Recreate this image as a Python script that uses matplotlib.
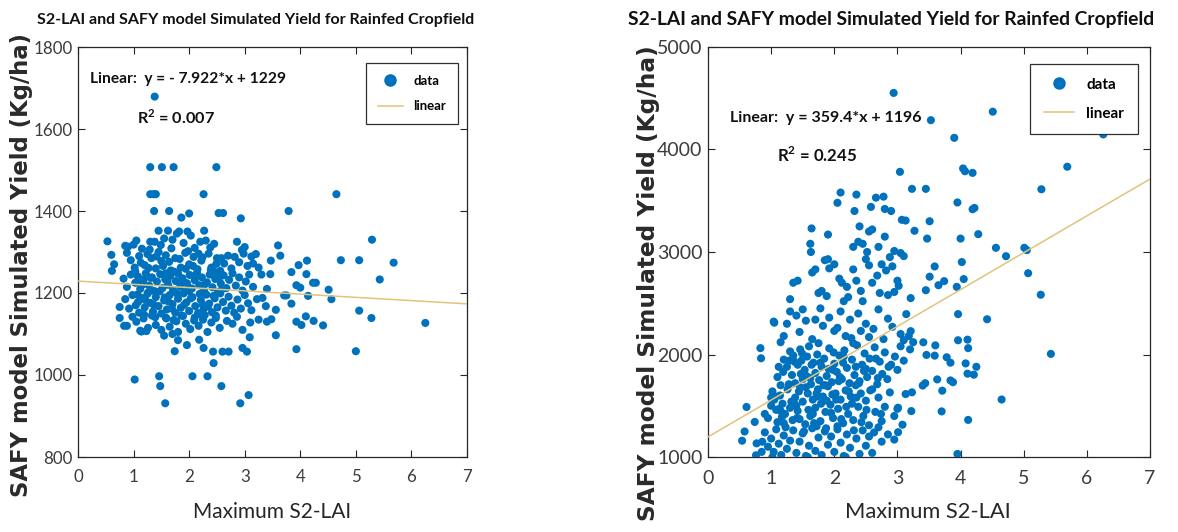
import numpy as np
import matplotlib
matplotlib.use("Agg")
import matplotlib.pyplot as plt
from matplotlib.lines import Line2D
from matplotlib.font_manager import FontProperties

# ---------------- data ----------------
x_ticks = [0, 1, 2, 3, 4, 5, 6, 7]
y_ticks_left = [800, 1000, 1200, 1400, 1600, 1800]
y_ticks_right = [1000, 2000, 3000, 4000, 5000]

slope_left, intercept_left, r2_left = -7.922, 1229, 0.007
slope_right, intercept_right, r2_right = 359.4, 1196, 0.245

# left panel – outlying points
left_out_lai = [1.38, 1.30, 1.51, 1.72, 2.49,
                1.30, 1.36, 1.40, 2.26, 4.65,
                1.37, 1.64, 1.86, 2.00, 2.53, 2.61, 2.93, 3.79,
                5.29, 0.53, 5.68, 4.73, 5.06, 5.43, 4.51, 4.56, 5.06, 5.28, 6.25, 5.00, 4.41, 4.24,
                1.02, 1.46, 1.48, 1.57, 2.06, 2.33, 2.58, 2.92, 3.07, 2.44, 2.43,
                0.75, 0.75, 0.83, 0.65, 0.60, 0.61,
                3.93, 3.93, 4.02, 4.10,
                3.56, 3.56, 3.48, 3.60, 3.64, 3.47, 3.46, 3.32,
                3.97, 4.12, 4.11, 4.23, 4.28, 4.14, 3.84, 3.71, 3.75, 3.93, 4.00, 3.84,
                3.09, 2.96, 3.04, 2.71, 2.60, 2.26, 2.18, 1.96, 1.80, 1.74, 1.55, 1.14, 1.23]
left_out_yield = [1679, 1507, 1507, 1507, 1507,
                  1441, 1441, 1441, 1441, 1441,
                  1400, 1400, 1384, 1394, 1395, 1395, 1382, 1400,
                  1330, 1326, 1274, 1280, 1280, 1233, 1208, 1185, 1157, 1139, 1127, 1058, 1121, 1132,
                  989, 997, 973, 931, 997, 997, 973, 931, 951, 1029, 1057,
                  1166, 1139, 1120, 1270, 1293, 1254,
                  1130, 1063, 1122, 1143,
                  1097, 1159, 1136, 1316, 1291, 1279, 1246, 1188,
                  1268, 1279, 1246, 1225, 1225, 1193, 1174, 1194, 1194, 1219, 1213, 1251,
                  1092, 1066, 1057, 1057, 1057, 1066, 1086, 1073, 1085, 1058, 1096, 1106, 1107]

# left panel – dense cloud
left_core_lai = [0.85, 0.90, 1.00, 1.05, 1.30, 1.38, 1.45, 1.62, 1.70, 1.78, 1.82, 1.97, 2.03, 2.20, 2.27, 2.30,
                 2.45, 2.86, 3.00, 2.95, 1.55, 1.90, 2.10, 1.15,
                 0.95, 1.10, 1.20, 1.25, 1.32, 1.40, 1.50, 1.58, 1.67, 1.75, 1.85, 1.93, 2.00, 2.08, 2.15, 2.22,
                 2.35, 2.40, 2.50, 2.56, 2.63, 2.70, 2.76, 2.82, 2.90, 2.98, 3.05, 3.12, 3.20, 3.25, 3.15, 1.02,
                 0.88, 1.45, 2.45,
                 0.82, 0.88, 0.95, 1.03, 1.08, 1.12, 1.18, 1.22, 1.28, 1.33, 1.37, 1.42, 1.48, 1.52, 1.57, 1.62,
                 1.66, 1.71, 1.76, 1.80, 1.84, 1.88, 1.92, 1.96, 2.01, 2.05, 2.10, 2.14, 2.18, 2.23, 2.27, 2.32,
                 2.37, 2.42, 2.47, 2.52, 2.57, 2.62, 2.67, 2.72, 2.78, 2.84, 2.90, 2.96, 3.02, 3.08, 3.15, 3.30,
                 3.40, 1.26, 1.58, 2.00,
                 0.85, 0.92, 0.98, 1.04, 1.10, 1.15, 1.20, 1.25, 1.30, 1.35, 1.40, 1.45, 1.50, 1.55, 1.60, 1.65,
                 1.70, 1.75, 1.80, 1.85, 1.90, 1.95, 2.00, 2.06, 2.11, 2.16, 2.21, 2.26, 2.31, 2.36, 2.41, 2.46,
                 2.51, 2.56, 2.61, 2.66, 2.71, 2.76, 2.81, 2.87, 2.93, 3.00, 3.06, 3.12, 3.22, 3.38, 1.08, 1.62,
                 2.24,
                 0.88, 0.98, 1.05, 1.12, 1.18, 1.26, 1.33, 1.40, 1.50, 1.58, 1.65, 1.72, 1.80, 1.86, 1.94, 2.02,
                 2.10, 2.17, 2.25, 2.33, 2.40, 2.48, 2.55, 2.68, 2.78, 2.86, 2.96, 3.10, 3.25, 3.40, 1.70, 2.20]
left_core_yield = [1315, 1313, 1318, 1328, 1325, 1325, 1352, 1352, 1330, 1345, 1350, 1350, 1340, 1325, 1352, 1328,
                   1320, 1325, 1312, 1305, 1333, 1322, 1310, 1308,
                   1280, 1290, 1268, 1295, 1285, 1260, 1278, 1292, 1255, 1285, 1262, 1298, 1270, 1288, 1258, 1279,
                   1296, 1262, 1285, 1254, 1272, 1291, 1260, 1288, 1275, 1296, 1266, 1289, 1295, 1262, 1272, 1262,
                   1298, 1300, 1252,
                   1235, 1215, 1245, 1225, 1240, 1210, 1232, 1248, 1218, 1238, 1205, 1228, 1246, 1212, 1233, 1220,
                   1242, 1208, 1229, 1247, 1216, 1236, 1203, 1224, 1244, 1211, 1231, 1249, 1219, 1238, 1206, 1226,
                   1245, 1214, 1234, 1202, 1223, 1243, 1212, 1232, 1248, 1218, 1238, 1206, 1228, 1245, 1215, 1245,
                   1210, 1201, 1248, 1205,
                   1185, 1162, 1195, 1170, 1152, 1188, 1165, 1198, 1176, 1155, 1190, 1168, 1150, 1182, 1160, 1195,
                   1173, 1152, 1186, 1164, 1199, 1177, 1156, 1190, 1168, 1151, 1183, 1161, 1196, 1174, 1153, 1187,
                   1165, 1199, 1178, 1157, 1191, 1169, 1152, 1184, 1162, 1195, 1175, 1158, 1185, 1168, 1178, 1180,
                   1172,
                   1120, 1142, 1130, 1108, 1138, 1115, 1145, 1122, 1110, 1140, 1118, 1134, 1105, 1145, 1125, 1112,
                   1140, 1120, 1135, 1105, 1128, 1145, 1115, 1132, 1125, 1142, 1110, 1128, 1135, 1130, 1100, 1148]

# left panel – densest part of the cloud
left_dense_lai = [1.03, 1.07, 1.13, 1.17, 1.21, 1.27, 1.31, 1.36, 1.41, 1.47,
                  1.53, 1.56, 1.61, 1.64, 1.69, 1.73, 1.78, 1.83, 1.87, 1.91,
                  1.94, 1.99, 2.03, 2.07, 2.12, 2.19, 2.24, 2.29, 2.34, 2.39,
                  2.44, 2.49, 2.54, 2.59, 1.11, 1.19, 1.29, 1.39, 1.49, 1.59,
                  1.68, 1.77, 1.89, 1.98, 2.09, 2.17, 2.28, 2.38, 2.48, 2.58]
left_dense_yield = [1253, 1196, 1274, 1221, 1183, 1261, 1237, 1172, 1289, 1204,
                    1266, 1189, 1230, 1276, 1162, 1252, 1199, 1283, 1226, 1171,
                    1259, 1213, 1187, 1266, 1241, 1198, 1287, 1222, 1167, 1256,
                    1193, 1271, 1238, 1209, 1228, 1147, 1306, 1141, 1317, 1138,
                    1309, 1131, 1144, 1302, 1133, 1296, 1146, 1311, 1139, 1285]

# right panel – outlying points
right_out_lai = [2.94, 4.51, 3.53, 3.90, 6.26, 5.69, 3.04, 4.04, 4.07, 4.19,
                 5.28, 3.23, 3.45, 3.95, 4.19, 4.22, 4.00, 4.28, 3.51, 3.47,
                 3.07, 3.13, 3.27, 4.56, 4.72, 5.01, 5.05, 5.07, 5.27, 4.42,
                 5.43, 4.65, 4.12, 3.70, 3.95, 4.02, 4.05, 3.94, 3.96, 3.96,
                 4.11, 4.12, 4.08, 4.11, 4.21, 4.25, 3.84, 3.78, 3.59, 3.65,
                 3.74, 3.51, 3.45, 3.21, 3.21, 3.14, 3.41, 3.46, 3.59, 3.60,
                 3.44, 3.40, 3.63, 3.71, 3.84, 3.88, 3.23, 3.13, 3.22, 3.08,
                 3.01, 3.01,
                 0.61, 0.54, 0.58, 0.74, 0.83, 0.84, 0.77, 0.76, 0.85, 1.04, 0.86]
right_out_yield = [4552, 4369, 4286, 4114, 4147, 3832, 3782, 3815, 3788, 3772,
                   3612, 3616, 3616, 3483, 3417, 3430, 3131, 3174, 3300, 3131,
                   3314, 3307, 3207, 3041, 2959, 3041, 3018, 2793, 2583, 2344,
                   2006, 1561, 1362, 1445, 1030, 2902, 2736, 2660, 2394, 2139,
                   2145, 2062, 1913, 1813, 1803, 1880, 1920, 1973, 2859, 2676,
                   2716, 2759, 2627, 2550, 2228, 2394, 2119, 1996, 1989, 2089,
                   1720, 1697, 1757, 1647, 1747, 1730, 1631, 1614, 1448, 1315,
                   1242, 1481,
                   1488, 1159, 1249, 1342, 2062, 1963, 1133, 1017, 1050, 2321, 1149]

# right panel – dense cloud
right_core_lai = [1.64, 1.90, 2.05, 2.10, 2.32, 2.35, 2.40, 2.58, 2.66, 2.78, 2.80, 2.90, 2.55, 2.60, 2.80, 2.30,
                  2.38, 2.45, 2.52, 2.95, 3.05, 3.10, 1.62, 1.63, 2.70,
                  1.65, 1.70, 1.85, 1.90, 1.92, 2.00, 2.08, 2.12, 2.20, 2.22, 2.30, 2.35, 2.42, 2.50, 2.55, 2.60,
                  2.68, 2.75, 2.82, 2.88, 2.92, 3.00, 3.02, 2.72, 2.95, 1.35, 1.42, 1.30, 1.75, 1.80, 2.15, 2.45,
                  1.88, 2.85,
                  1.05, 1.25, 1.30, 1.40, 1.50, 1.55, 1.70, 1.78, 1.82, 1.92, 2.00, 2.05, 2.10, 2.18, 2.25, 2.30,
                  2.38, 2.42, 2.50, 2.55, 2.62, 2.70, 2.78, 2.85, 2.92, 3.05, 3.10, 3.18, 1.20, 1.45, 1.65, 1.15,
                  1.10, 1.15, 1.20, 1.25, 1.30, 1.33, 1.38, 1.42, 1.46, 1.50, 1.53, 1.57, 1.60, 1.63, 1.67, 1.70,
                  1.73, 1.76, 1.80, 1.84, 1.88, 1.92, 1.96, 2.00, 2.04, 2.08, 2.12, 2.16, 2.20, 2.24, 2.28, 2.32,
                  2.36, 2.40, 2.44, 2.48, 2.52, 2.56, 2.60, 2.64, 2.68, 2.72, 2.76, 2.80, 2.84, 2.90, 2.96, 3.00,
                  3.05, 3.10, 3.20, 3.25, 1.35, 1.48, 1.62, 1.78, 1.98, 2.14, 2.34, 2.50, 2.66, 2.86, 1.12,
                  0.90, 0.95, 1.00, 1.02, 1.05, 1.08, 1.10, 1.14, 1.18, 1.22, 1.26, 1.30, 1.34, 1.38, 1.42, 1.46,
                  1.50, 1.54, 1.58, 1.62, 1.66, 1.70, 1.74, 1.78, 1.82, 1.86, 1.90, 1.94, 1.98, 2.02, 2.06, 2.10,
                  2.14, 2.18, 2.22, 2.26, 2.30, 2.34, 2.38, 2.42, 2.46, 2.50, 2.55, 2.60, 2.65, 2.70, 2.75, 2.80,
                  2.88, 2.95, 3.00, 1.20, 1.45, 1.72, 2.05, 1.15, 1.40, 1.88, 2.28, 1.00,
                  0.90, 0.95, 1.00, 1.04, 1.08, 1.12, 1.16, 1.20, 1.25, 1.30, 1.35, 1.40, 1.45, 1.50, 1.55, 1.60,
                  1.65, 1.70, 1.75, 1.80, 1.85, 1.90, 1.95, 2.00, 2.05, 2.10, 2.15, 2.20, 2.25, 2.35, 2.40, 2.45,
                  2.50, 2.55, 2.60, 2.70, 2.75, 2.85, 2.95, 1.58, 2.18, 1.02]
right_core_yield = [3230, 3170, 3480, 3580, 3400, 3560, 3250, 3440, 3530, 3540, 3420, 3400, 3200, 3220, 3150, 3050,
                    3100, 3080, 3000, 3010, 2990, 2960, 3080, 3000, 3050,
                    2800, 2830, 2920, 2930, 2840, 2880, 2740, 2700, 2660, 2560, 2830, 2720, 2620, 2930, 2870, 2700,
                    2770, 2880, 2820, 2950, 2860, 2720, 2670, 2600, 2610, 2700, 2720, 2540, 2600, 2620, 2520, 2520,
                    2570, 2580,
                    2310, 2300, 2420, 2380, 2440, 2330, 2340, 2450, 2280, 2360, 2230, 2260, 2420, 2180, 2340, 2110,
                    2400, 2230, 2300, 2170, 2250, 2440, 2150, 2350, 2270, 2200, 2140, 2180, 2180, 2220, 2150, 2120,
                    1780, 1700, 1950, 1880, 2030, 1800, 1720, 1900, 2050, 1760, 1850, 1980, 2080, 1710, 1920, 1820,
                    2000, 1750, 1880, 1960, 1790, 2060, 1730, 1910, 1830, 1990, 1760, 2040, 1870, 1720, 1950, 1800,
                    2090, 1740, 1900, 2010, 1780, 1960, 1840, 2070, 1710, 1930, 1810, 2020, 1760, 1900, 1980, 1850,
                    2080, 1940, 2050, 2120, 1990, 1940, 1770, 1920, 1850, 1920, 1880, 1860, 1960, 1880, 1880,
                    1420, 1380, 1500, 1640, 1560, 1460, 1340, 1600, 1520, 1420, 1660, 1480, 1360, 1580, 1450, 1680,
                    1540, 1320, 1620, 1400, 1560, 1480, 1660, 1350, 1590, 1440, 1690, 1510, 1380, 1620, 1470, 1560,
                    1330, 1650, 1420, 1590, 1360, 1700, 1490, 1620, 1400, 1550, 1310, 1660, 1440, 1580, 1350, 1490,
                    1630, 1400, 1470, 1330, 1370, 1300, 1300, 1450, 1500, 1550, 1520, 1580,
                    1240, 1100, 1180, 1050, 1270, 1130, 1020, 1210, 1080, 1160, 1260, 1040, 1150, 1230, 1010, 1110,
                    1280, 1060, 1190, 1020, 1250, 1120, 1200, 1050, 1270, 1140, 1010, 1220, 1090, 1180, 1030, 1260,
                    1110, 1200, 1040, 1290, 1150, 1220, 1170, 1000, 1000, 1000]

# right panel – densest part of the cloud
right_dense_lai = [1.07, 1.13, 1.19, 1.23, 1.28, 1.32, 1.37, 1.41, 1.44, 1.49,
                   1.52, 1.56, 1.59, 1.64, 1.68, 1.72, 1.75, 1.79, 1.83, 1.87,
                   1.91, 1.95, 1.99, 2.03, 2.07, 2.11, 2.15, 2.19, 2.23, 2.27,
                   2.31, 2.35, 2.39, 2.43, 2.47, 2.51, 2.57, 2.63, 2.69, 2.74,
                   1.17, 1.29, 1.36, 1.47, 1.55, 1.66, 1.74, 1.86, 1.97, 2.09]
right_dense_yield = [1590, 1470, 1830, 1290, 1710, 1540, 1930, 1380, 1640, 2010,
                     1250, 1790, 1460, 1900, 1330, 1620, 2110, 1520, 1700, 1280,
                     1860, 1430, 2020, 1560, 1740, 1370, 1980, 1490, 1640, 2160,
                     1260, 1580, 1720, 1340, 1840, 1460, 1650, 1240, 1770, 1420,
                     1390, 1940, 1530, 1810, 1680, 1420, 1590, 1700, 1610, 1780]

title_text = "S2-LAI and SAFY model Simulated Yield for Rainfed Cropfield"
xlabel_text = "Maximum S2-LAI"
ylabel_text = "SAFY model Simulated Yield (Kg/ha)"

# ---------------- styling ----------------
W, H = 1178, 532
FONT = ["Lato", "Liberation Sans", "DejaVu Sans"]
plt.rcParams["mathtext.fontset"] = "custom"
plt.rcParams["mathtext.rm"] = "Lato"
plt.rcParams["mathtext.bf"] = "Lato:bold"

DOT = "#0072BD"
FIT = "#E3C27A"
AXC = "#262626"
TICKC = "#3c3c3c"

fig = plt.figure(figsize=(W / 100, H / 100), dpi=100)
fig.patch.set_facecolor("white")
renderer = fig.canvas.get_renderer()


def size_for(s, target_px, family=FONT, weight="normal", math=False):
    """font size (pt) that makes string s target_px wide"""
    fp = FontProperties(family=family, weight=weight, size=10)
    w, _, _ = renderer.get_text_width_height_descent(s, fp, ismath=math)
    return 10 * target_px / w


def px_axes(x0, x1, ytop, ybot):
    return fig.add_axes([x0 / W, (H - ybot) / H, (x1 - x0) / W, (ybot - ytop) / H])


def draw_panel(ax, lai, yld, slope, intercept, r2, yticks, px, txt_pos, leg_anchor, sign_txt):
    ax.scatter(lai, yld, s=34, color=DOT, edgecolors="none", zorder=3)
    fx = np.array([x_ticks[0], x_ticks[-1]], dtype=float)
    ax.plot(fx, slope * fx + intercept, color=FIT, lw=1.1, zorder=4)
    ax.set_xlim(x_ticks[0], x_ticks[-1])
    ax.set_ylim(yticks[0], yticks[-1])
    ax.set_xticks(x_ticks)
    ax.set_yticks(yticks)
    tick_size = size_for(str(yticks[-1]), px["tick"])
    ax.tick_params(direction="in", top=True, right=True, length=5, width=0.8,
                   colors=AXC, labelcolor=TICKC, labelsize=tick_size)
    ax.tick_params(axis="x", pad=9)
    ax.tick_params(axis="y", pad=4)
    for lab in ax.get_xticklabels() + ax.get_yticklabels():
        lab.set_family(FONT)
    for sp in ax.spines.values():
        sp.set_color(AXC)
        sp.set_linewidth(0.9)
    ann = size_for(sign_txt, px["ann"], weight="bold")
    ax.text(txt_pos[0], txt_pos[1], sign_txt, transform=ax.transAxes,
            ha="left", va="center", fontsize=ann, fontweight="bold",
            family=FONT, color="#111111")
    ax.text(txt_pos[2], txt_pos[3], r"R$^{\mathbf{2}}$ = " + f"{r2:.3f}", transform=ax.transAxes,
            ha="left", va="center", fontsize=ann * 1.05, fontweight="bold",
            family=FONT, color="#111111")
    leg_size = size_for("linear", px["leg"], weight="bold")
    handles = [Line2D([], [], marker="o", ls="none", color=DOT, markersize=8),
               Line2D([], [], color=FIT, lw=1.1)]
    leg = ax.legend(handles, ["data", "linear"], loc="upper right", bbox_to_anchor=leg_anchor,
                    bbox_transform=ax.transAxes, borderaxespad=0, frameon=True, fancybox=False,
                    edgecolor="#303030", framealpha=1, handlelength=px["hl"], handletextpad=0.8,
                    labelspacing=1.0, borderpad=0.9,
                    prop={"family": FONT, "weight": "bold", "size": leg_size})
    leg.get_frame().set_linewidth(0.9)


lai_left = np.concatenate([left_out_lai, left_core_lai, left_dense_lai])
yld_left = np.concatenate([left_out_yield, left_core_yield, left_dense_yield])
lai_right = np.concatenate([right_out_lai, right_core_lai, right_dense_lai])
yld_right = np.concatenate([right_out_yield, right_core_yield, right_dense_yield])

axL = px_axes(78, 467, 47, 457)
draw_panel(axL, lai_left, yld_left, slope_left, intercept_left, r2_left, y_ticks_left,
           {"tick": 39, "ann": 196, "leg": 33, "hl": 1.9},
           (0.031, 0.922, 0.152, 0.829), (0.977, 0.961),
           f"Linear:  y = - {abs(slope_left):.3f}*x + {intercept_left}")

axR = px_axes(708, 1150, 47, 457)
draw_panel(axR, lai_right, yld_right, slope_right, intercept_right, r2_right, y_ticks_right,
           {"tick": 45, "ann": 192, "leg": 38, "hl": 2.0},
           (0.050, 0.827, 0.156, 0.737), (0.973, 0.959),
           f"Linear:  y = {slope_right:.1f}*x + {intercept_right}")

# titles
fig.text(256 / W, 1 - 20 / H, title_text, ha="center", va="center",
         fontsize=size_for(title_text, 440, weight="bold"),
         fontweight="bold", family=FONT, color="#111111")
fig.text(891 / W, 1 - 20 / H, title_text, ha="center", va="center",
         fontsize=size_for(title_text, 530, weight="bold"),
         fontweight="bold", family=FONT, color="#111111")

# x labels
fig.text(272 / W, 1 - 512 / H, xlabel_text, ha="center", va="center",
         fontsize=size_for(xlabel_text, 158), family=FONT, color="#262626")
fig.text(928 / W, 1 - 512 / H, xlabel_text, ha="center", va="center",
         fontsize=size_for(xlabel_text, 165), family=FONT, color="#262626")

# y labels
fig.text(22 / W, 1 - 265 / H, ylabel_text, ha="center", va="center", rotation=90,
         fontsize=size_for(ylabel_text, 465, family="DejaVu Sans", weight="bold"),
         fontweight="bold", family="DejaVu Sans", color="#2a2a2a")
fig.text(648 / W, 1 - 283 / H, ylabel_text, ha="center", va="center", rotation=90,
         fontsize=size_for(ylabel_text, 475, family="DejaVu Sans", weight="bold"),
         fontweight="bold", family="DejaVu Sans", color="#2a2a2a")

fig.savefig("out.png", dpi=100)
